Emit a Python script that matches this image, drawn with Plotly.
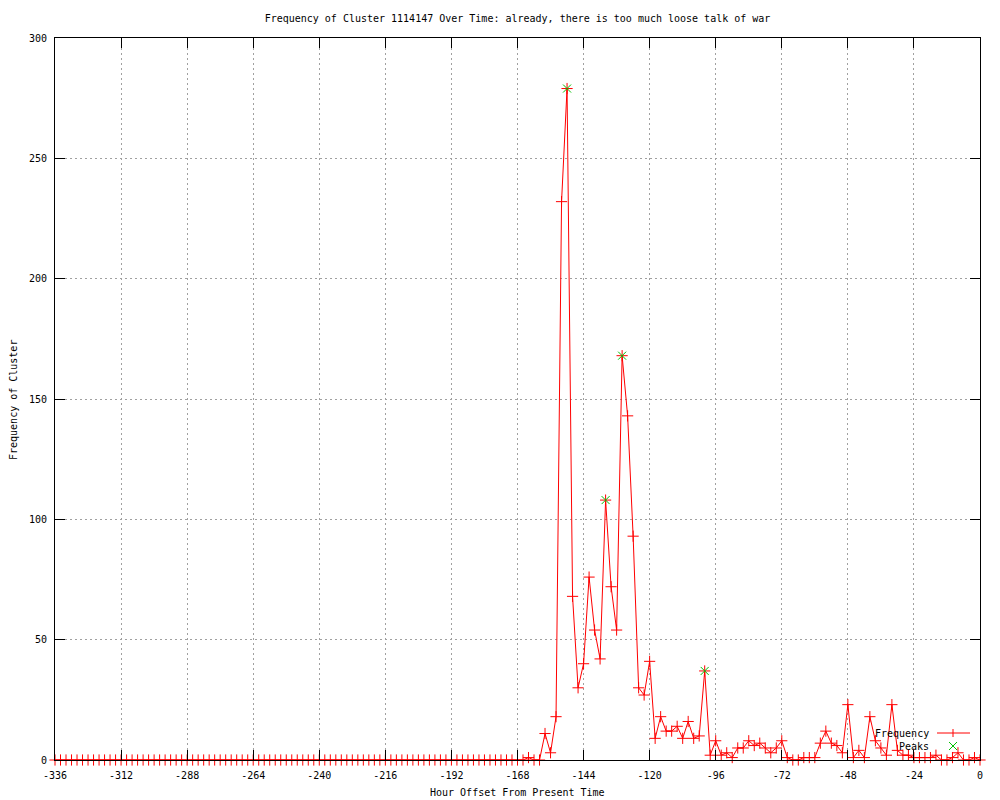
import plotly.graph_objects as go

# hour offsets, one sample every 2 hours
hours = list(range(-336, 2, 2))

freq = [
    0, 0, 0, 0, 0, 0, 0, 0, 0, 0,
    0, 0, 0, 0, 0, 0, 0, 0, 0, 0,
    0, 0, 0, 0, 0, 0, 0, 0, 0, 0,
    0, 0, 0, 0, 0, 0, 0, 0, 0, 0,
    0, 0, 0, 0, 0, 0, 0, 0, 0, 0,
    0, 0, 0, 0, 0, 0, 0, 0, 0, 0,
    0, 0, 0, 0, 0, 0, 0, 0, 0, 0,
    0, 0, 0, 0, 0, 0, 0, 0, 0, 0,
    0, 0, 0, 0, 0, 0,
    1, 0, 0, 11, 3, 18, 232, 279, 68, 30,
    40, 76, 54, 42, 108, 72, 54, 168, 143, 93,
    30, 27, 41, 9, 18, 12, 12, 14, 9, 16,
    9, 10, 37, 2, 8, 2, 3, 1, 5, 5,
    8, 6, 7, 5, 3, 5, 8, 1, 0, 0,
    1, 1, 1, 7, 12, 7, 6, 3, 23, 1,
    4, 1, 18, 8, 5, 2, 23, 4, 2, 2,
    1, 1, 1, 1, 2, 0, 0, 1, 3, 0,
    0, 1, 0,
]

peak_hours = [-150, -136, -130, -100]
peak_freq = [279, 108, 168, 37]

x_ticks = [-336, -312, -288, -264, -240, -216, -192, -168, -144, -120, -96, -72, -48, -24, 0]
x_tick_text = ['-336', '-312', '-288', '-264', '-240', '-216', '-192', '-168',
               '-144', '-120', '-96', '-72', '-48', '-24', '0']
y_ticks = [0, 50, 100, 150, 200, 250, 300]

title = "Frequency of Cluster 1114147 Over Time: already, there is too much loose talk of war"

FONT = "DejaVu Sans Mono"
RED = '#ff0000'
GREEN = '#00c000'

# the page body has an 8px margin, so the figure is a bit smaller
OFF = 8
W, H = 1000 - OFF, 800 - OFF
# plot area in page pixels
L, R, T, B = 55, 980, 38, 760


def px(x):
    return (x - L) / (R - L)


def py(y):
    return (B - y) / (B - T)


fig = go.Figure()
fig.add_trace(go.Scatter(
    x=hours, y=freq, mode='lines+markers', name='Frequency',
    line=dict(color=RED, width=1),
    marker=dict(symbol='cross-thin', size=8, line=dict(color=RED, width=1)),
    cliponaxis=False, showlegend=False,
))
fig.add_trace(go.Scatter(
    x=peak_hours, y=peak_freq, mode='markers', name='Peaks',
    marker=dict(symbol='x-thin', size=8, line=dict(color=GREEN, width=1)),
    cliponaxis=False, showlegend=False,
))

axis_common = dict(
    showline=True, linecolor='black', linewidth=1, mirror='ticks',
    ticks='inside', ticklen=10, tickcolor='black', tickwidth=1,
    showgrid=True, gridcolor='#a0a0a0', gridwidth=1, griddash='2px,3px',
    zeroline=False, tickfont=dict(family=FONT, size=10, color='black'),
)
fig.update_xaxes(range=[-336, 0], tickvals=x_ticks, ticktext=x_tick_text,
                 ticklabelstandoff=6, **axis_common)
fig.update_yaxes(range=[0, 300], tickvals=y_ticks, ticklabelstandoff=5, **axis_common)

fig.update_layout(
    width=W, height=H, autosize=False,
    margin=dict(l=L - OFF, r=1000 - R, t=T - OFF, b=800 - B),
    paper_bgcolor='white', plot_bgcolor='white',
    # longer tick marks along the bottom edge
    xaxis2=dict(overlaying='x', anchor='y', side='bottom', range=[-336, 0],
                tickvals=x_ticks, ticks='inside', ticklen=17, tickcolor='black',
                showticklabels=False, showgrid=False, showline=False, zeroline=False),
    title=dict(text=title, x=0.5, xref='paper', y=1 - (18 - OFF) / H, yref='container',
               yanchor='middle', font=dict(family=FONT, size=10, color='black')),
)

# axis labels
fig.add_annotation(text="Hour Offset From Present Time", x=0.5, y=py(793),
                   xref='paper', yref='paper', showarrow=False,
                   xanchor='center', yanchor='middle',
                   font=dict(family=FONT, size=10, color='black'))
fig.add_annotation(text="Frequency of Cluster", x=px(13), y=py(400),
                   xref='paper', yref='paper', showarrow=False, textangle=-90,
                   xanchor='center', yanchor='middle',
                   font=dict(family=FONT, size=10, color='black'))

# gnuplot-style key: text on the left, sample on the right
for label, yy in [("Frequency", 733), ("Peaks", 746)]:
    fig.add_annotation(text=label, x=px(931), y=py(yy), xref='paper', yref='paper',
                       xanchor='right', yanchor='middle', showarrow=False,
                       font=dict(family=FONT, size=10, color='black'))

line_kw = dict(type='line', xref='paper', yref='paper')
fig.add_shape(x0=px(937), x1=px(970), y0=py(733), y1=py(733),
              line=dict(color=RED, width=1), **line_kw)
fig.add_shape(x0=px(953), x1=px(953), y0=py(729), y1=py(737),
              line=dict(color=RED, width=1), **line_kw)
fig.add_shape(x0=px(949), x1=px(957), y0=py(742), y1=py(750),
              line=dict(color=GREEN, width=1), **line_kw)
fig.add_shape(x0=px(949), x1=px(957), y0=py(750), y1=py(742),
              line=dict(color=GREEN, width=1), **line_kw)

fig.write_html("out.html")
